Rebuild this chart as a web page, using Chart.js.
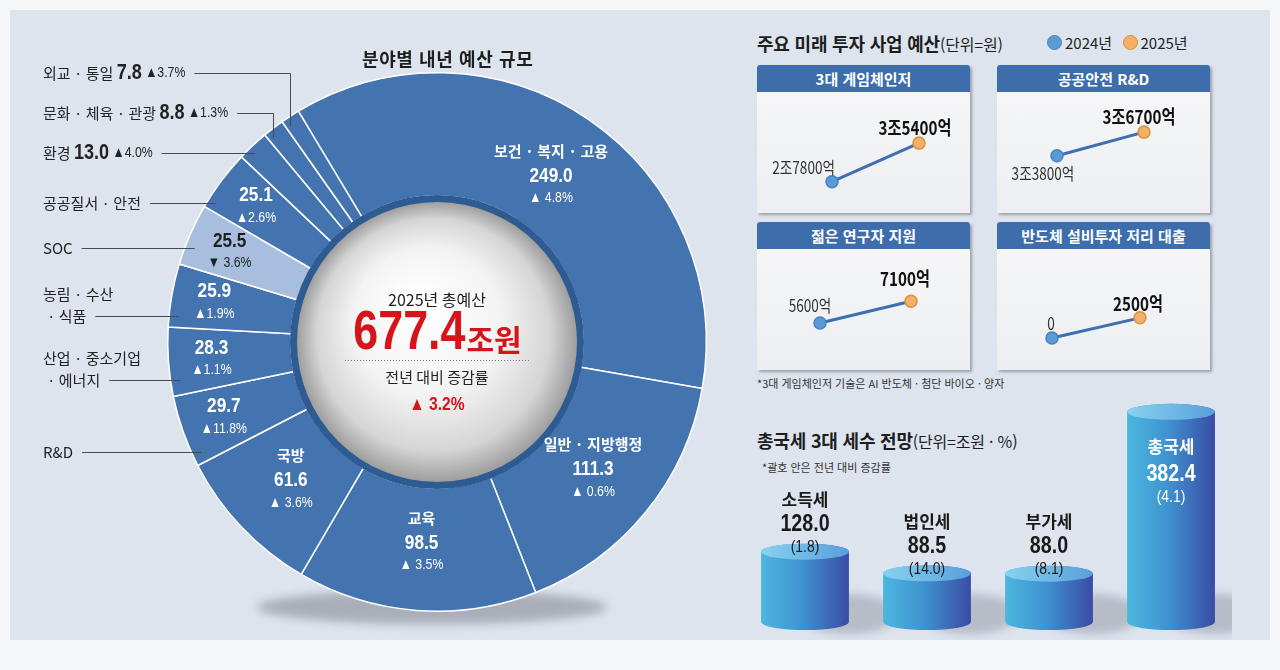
<!DOCTYPE html>
<html lang="ko">
<head>
<meta charset="utf-8">
<title>2025년 예산</title>
<script src="https://cdn.jsdelivr.net/npm/chart.js@4.4.1/dist/chart.umd.min.js"></script>
<style>
  body { margin: 0; width: 1280px; height: 670px; background: #f5f6f8; position: relative; overflow: hidden;
         font-family: "Noto Sans CJK KR", sans-serif; color: #1e1e1e; }
  #frame { position: absolute; left: 10px; top: 10px; width: 1260px; height: 630px; background: #dde4ee; }
  canvas { position: absolute; }
  .title { position: absolute; font-weight: bold; font-size: 18px; white-space: nowrap; letter-spacing: -0.2px; line-height: 20px; }
  .title span { font-weight: normal; font-size: 16px; }
  .note { position: absolute; font-size: 11px; color: #333; white-space: nowrap; line-height: 14px; }
  .box { position: absolute; width: 213px; height: 148px; background: linear-gradient(#f8f8f9, #eceef1);
         box-shadow: 2px 2px 3px rgba(0,0,0,0.3); border-radius: 3px 3px 0 0; }
  .box .hd { height: 27px; line-height: 27px; background: #3d6dab; color: #fff; font-weight: bold; font-size: 15px;
             text-align: center; border-radius: 3px 3px 0 0; }
  .box canvas { left: 0; top: 27px; }
  .legend { position: absolute; left: 1045px; top: 33px; font-size: 15px; white-space: nowrap; line-height: 20px; }
  .legend i { display: inline-block; width: 13px; height: 13px; border-radius: 50%; vertical-align: -1px; margin: 0 3px 0 2px; }
</style>
</head>
<body>
<div id="frame"></div>
<canvas id="donut" width="740" height="670" style="left:0;top:0"></canvas>
<div class="title" style="left:362px;top:48px;letter-spacing:0.6px">분야별 내년 예산 규모</div>

<div class="title" style="left:757px;top:33px">주요 미래 투자 사업 예산<span>(단위=원)</span></div>
<div class="legend"><i style="background:#5b9bd5;border:1px solid #4a86c3"></i>2024년 &nbsp;<i style="background:#f3b066;border:1px solid #d9933f"></i>2025년</div>
<div id="panels"></div>
<div class="note" style="left:757px;top:376px">*3대 게임체인저 기술은 AI 반도체 · 첨단 바이오 · 양자</div>

<div class="title" style="left:757px;top:430px">총국세 3대 세수 전망<span>(단위=조원 · %)</span></div>
<div class="note" style="left:762px;top:460px">*괄호 안은 전년 대비 증감률</div>
<canvas id="tax" width="488" height="240" style="left:744px;top:400px"></canvas>

<script>
// 분야별 내년 예산 규모 (조원, 전년 대비 %)
const sectors = ['보건 · 복지 · 고용', '일반 · 지방행정', '교육', '국방', 'R&D',
  '산업 · 중소기업\n· 에너지', '농림 · 수산\n· 식품', 'SOC', '공공질서 · 안전', '환경', '문화 · 체육 · 관광', '외교 · 통일'];
const budget = [249.0, 111.3, 98.5, 61.6, 29.7, 28.3, 25.9, 25.5, 25.1, 13.0, 8.8, 7.8];
const budgetChange = [4.8, 0.6, 3.5, 3.6, 11.8, 1.1, 1.9, -3.6, 2.6, 4.0, 1.3, 3.7];
const totalBudget = 677.4;
const totalChange = 3.2;

// 주요 미래 투자 사업 예산 (억원)
const projects = ['3대 게임체인저', '공공안전 R&D', '젊은 연구자 지원', '반도체 설비투자 저리 대출'];
const years = ['2024년', '2025년'];
const invest2024 = [27800, 33800, 5600, 0];
const invest2025 = [35400, 36700, 7100, 2500];

// 총국세 3대 세수 전망 (조원, 괄호 안은 전년 대비 %)
const taxNames = ['소득세', '법인세', '부가세', '총국세'];
const taxValues = [128.0, 88.5, 88.0, 382.4];
const taxChange = [1.8, 14.0, 8.1, 4.1];

const KR = "'Noto Sans CJK KR', sans-serif";
const NUM = "'Liberation Sans', 'Noto Sans CJK KR', sans-serif";
const NARROW = 0.82; // 좁은 숫자 글꼴 흉내

// sx < 1 이면 가로로 눌러서 그림, 그린 폭을 돌려줌
function txt(ctx, s, x, y, font, color, align, sx) {
  sx = sx || 1;
  ctx.save();
  ctx.font = font;
  ctx.fillStyle = color;
  ctx.textAlign = align || 'center';
  ctx.textBaseline = 'middle';
  ctx.translate(x, y);
  ctx.scale(sx, 1);
  ctx.fillText(s, 0, 0);
  const w = ctx.measureText(s).width * sx;
  ctx.restore();
  return w;
}
const pct = c => (c < 0 ? '▼ ' : '▲') + Math.abs(c).toFixed(1) + '%';
const eok = v => v === 0 ? '0' : (v >= 10000 ? Math.floor(v / 10000) + '조' + (v % 10000) + '억' : v + '억');

// ---------- 도넛 ----------
const outerY = { 4: 452, 5: 380, 6: 316, 7: 248, 8: 203, 9: 153, 10: 113, 11: 73 };

const donutDeco = {
  id: 'donutDeco',
  beforeDatasetsDraw(chart) {
    const a = chart.getDatasetMeta(0).data[0];
    const ctx = chart.ctx;
    ctx.save();
    ctx.filter = 'blur(5px)';
    ctx.fillStyle = '#a9aeb8';
    ctx.beginPath();
    ctx.ellipse(a.x - 5, a.y + a.outerRadius - 4, 175, 17, 0, 0, Math.PI * 2);
    ctx.fill();
    ctx.restore();
  },
  afterDatasetsDraw(chart) {
    const arcs = chart.getDatasetMeta(0).data;
    const ctx = chart.ctx;
    const a0 = arcs[0];
    const cx = a0.x, cy = a0.y, R = a0.outerRadius, r = a0.innerRadius;

    // 가운데 구
    ctx.save();
    ctx.beginPath();
    ctx.arc(cx, cy, r + 1, 0, Math.PI * 2);
    ctx.fillStyle = '#2e5b91';
    ctx.fill();
    const g = ctx.createRadialGradient(cx - 20, cy - 40, 8, cx, cy, r - 6);
    g.addColorStop(0, '#ffffff');
    g.addColorStop(0.5, '#f3f3f3');
    g.addColorStop(0.82, '#d5d5d5');
    g.addColorStop(1, '#9e9e9e');
    ctx.beginPath();
    ctx.arc(cx, cy, r - 6, 0, Math.PI * 2);
    ctx.fillStyle = g;
    ctx.fill();
    ctx.restore();

    txt(ctx, '2025년 총예산', cx, cy - 42, '16px ' + KR, '#222');
    ctx.save();
    ctx.font = 'bold 56px ' + NUM;
    const w1 = ctx.measureText(totalBudget.toFixed(1)).width * 0.8;
    ctx.font = 'bold 30px ' + KR;
    const w2 = ctx.measureText('조원').width;
    ctx.restore();
    const sx = cx - (w1 + w2) / 2;
    txt(ctx, totalBudget.toFixed(1), sx, cy - 8, 'bold 56px ' + NUM, '#d7141a', 'left', 0.8);
    txt(ctx, '조원', sx + w1 + 1, cy - 2, 'bold 30px ' + KR, '#d7141a', 'left');
    ctx.save();
    ctx.setLineDash([1, 2]);
    ctx.strokeStyle = '#777';
    ctx.beginPath();
    ctx.moveTo(cx - 92, cy + 18.5);
    ctx.lineTo(cx + 92, cy + 18.5);
    ctx.stroke();
    ctx.restore();
    txt(ctx, '전년 대비 증감률', cx, cy + 35, '15px ' + KR, '#222');
    txt(ctx, pct(totalChange).replace('▲', '▲ '), cx, cy + 63, 'bold 19px ' + NUM, '#d7141a', 'center', NARROW);

    // 조각 안 숫자
    for (let i = 0; i <= 8; i++) {
      const a = arcs[i];
      const mid = (a.startAngle + a.endAngle) / 2;
      const named = i < 4;
      const rr = r + (R - r) * (named ? 0.45 : 0.65);
      const x = cx + Math.cos(mid) * rr;
      const y = cy + Math.sin(mid) * rr;
      const col = budgetChange[i] < 0 ? '#1e1e1e' : '#ffffff';
      if (named) {
        txt(ctx, sectors[i], x, y - 25, 'bold 15px ' + KR, col);
        txt(ctx, budget[i].toFixed(1), x, y, 'bold 21px ' + NUM, col, 'center', NARROW);
        txt(ctx, pct(budgetChange[i]).replace('▲', '▲ '), x, y + 22, '15px ' + NUM, col, 'center', NARROW);
      } else {
        txt(ctx, budget[i].toFixed(1), x, y - 11, 'bold 21px ' + NUM, col, 'center', NARROW);
        txt(ctx, pct(budgetChange[i]), x, y + 11, '15px ' + NUM, col, 'center', NARROW);
      }
    }

    // 왼쪽 바깥 이름표와 지시선
    for (let i = 4; i < budget.length; i++) {
      const a = arcs[i];
      const mid = (a.startAngle + a.endAngle) / 2;
      const y = outerY[i];
      let endX;
      if (i >= 9) {
        let x = 43;
        x += txt(ctx, sectors[i] + ' ', x, y, '15px ' + KR, '#222', 'left');
        x += txt(ctx, budget[i].toFixed(1), x, y, 'bold 22px ' + NUM, '#222', 'left', NARROW);
        x += txt(ctx, ' ' + pct(budgetChange[i]), x, y, '15px ' + NUM, '#222', 'left', NARROW);
        endX = x;
      } else {
        const lines = sectors[i].split('\n');
        lines.forEach((ln, k) => {
          const lx = k ? 47 : 43;
          endX = lx + txt(ctx, ln, lx, y - (lines.length - 1 - k) * 22, '15px ' + KR, '#222', 'left');
        });
      }
      ctx.save();
      ctx.strokeStyle = '#4a4a4a';
      ctx.lineWidth = 1;
      ctx.beginPath();
      ctx.moveTo(endX + 9, y + 0.5);
      if (i >= 10) {
        const xm = Math.round(cx + Math.cos(mid) * R) + 0.5;
        const ym = cy + Math.sin(mid) * R;
        ctx.lineTo(xm, y + 0.5);
        ctx.lineTo(xm, ym + 10);
      } else {
        const dy = y - cy;
        ctx.lineTo(cx - Math.sqrt(R * R - dy * dy) + 10, y + 0.5);
      }
      ctx.stroke();
      ctx.restore();
    }
  }
};

new Chart(document.getElementById('donut'), {
  type: 'doughnut',
  data: {
    labels: sectors,
    datasets: [{
      data: budget,
      backgroundColor: budgetChange.map(c => c < 0 ? '#a8bedf' : '#4474b0'),
      borderColor: '#ffffff',
      borderWidth: 1.5
    }]
  },
  options: {
    responsive: false,
    animation: false,
    rotation: -31,
    cutout: 146,
    layout: { padding: { left: 167, top: 72, right: 33, bottom: 58 } },
    plugins: { legend: { display: false }, tooltip: { enabled: false } }
  },
  plugins: [donutDeco]
});

// ---------- 투자 사업 패널 ----------
const panelPos = [[757, 65], [997, 65], [757, 222], [997, 222]];
const panelPad = [[75, 51], [60, 66], [63, 59], [55, 70]];
const panelRange = [[23100, 44000], [27700, 40700], [2900, 10160], [-3040, 10110]];
const tagFirst = [[3, -14, 'right'], [-14, 18, 'center'], [-10, -18, 'center'], [-1, -14, 'center']];
const tagSecond = [[-4, -15], [-5, -15], [-6, -22], [-2, -14]];

const panels = document.getElementById('panels');
projects.forEach((name, i) => {
  const box = document.createElement('div');
  box.className = 'box';
  box.style.left = panelPos[i][0] + 'px';
  box.style.top = panelPos[i][1] + 'px';
  box.innerHTML = '<div class="hd">' + name + '</div><canvas width="213" height="121"></canvas>';
  panels.appendChild(box);

  const tagPlugin = {
    id: 'tag' + i,
    afterDatasetsDraw(chart) {
      const pts = chart.getDatasetMeta(0).data;
      const ctx = chart.ctx;
      const f = tagFirst[i], s = tagSecond[i];
      txt(ctx, eok(invest2024[i]), pts[0].x + f[0], pts[0].y + f[1], '17px ' + KR, '#333', f[2], 0.8);
      txt(ctx, eok(invest2025[i]), pts[1].x + s[0], pts[1].y + s[1], 'bold 19px ' + KR, '#111', 'center', 0.8);
    }
  };

  new Chart(box.querySelector('canvas'), {
    type: 'line',
    data: {
      labels: years,
      datasets: [{
        data: [invest2024[i], invest2025[i]],
        borderColor: '#3e6fb0',
        borderWidth: 3,
        pointRadius: 6,
        pointBackgroundColor: ['#5b9bd5', '#f3b066'],
        pointBorderColor: ['#4683c2', '#d9933f'],
        pointBorderWidth: 1.5,
        clip: false
      }]
    },
    options: {
      responsive: false,
      animation: false,
      layout: { padding: { left: panelPad[i][0], right: panelPad[i][1], top: 0, bottom: 0 } },
      scales: {
        x: { display: false, offset: false },
        y: { display: false, min: panelRange[i][0], max: panelRange[i][1] }
      },
      plugins: { legend: { display: false }, tooltip: { enabled: false } }
    },
    plugins: [tagPlugin]
  });
});

// ---------- 세수 원기둥 ----------
const cylinders = {
  id: 'cylinders',
  afterDatasetsDraw(chart) {
    const bars = chart.getDatasetMeta(0).data;
    const ctx = chart.ctx;
    const ry = 8;
    bars.forEach(b => {
      ctx.save();
      ctx.filter = 'blur(4px)';
      ctx.fillStyle = 'rgba(150,156,168,0.55)';
      ctx.beginPath();
      ctx.ellipse(b.x + b.width * 0.5, b.base - 8, b.width * 0.55, 20, 0, 0, Math.PI * 2);
      ctx.fill();
      ctx.restore();
    });
    bars.forEach((b, i) => {
      const w = b.width, l = b.x - w / 2, top = b.y, base = b.base;
      const g = ctx.createLinearGradient(l, 0, l + w, 0);
      g.addColorStop(0, '#4cb7df');
      g.addColorStop(0.45, '#3f94d0');
      g.addColorStop(1, '#3a4ca6');
      ctx.beginPath();
      ctx.moveTo(l, top);
      ctx.lineTo(l, base);
      ctx.ellipse(b.x, base, w / 2, ry, 0, Math.PI, 0, true);
      ctx.lineTo(l + w, top);
      ctx.ellipse(b.x, top, w / 2, ry, 0, 0, -Math.PI, true);
      ctx.closePath();
      ctx.fillStyle = g;
      ctx.fill();
      const t = ctx.createLinearGradient(l, 0, l + w, 0);
      t.addColorStop(0, '#86d2ef');
      t.addColorStop(1, '#5a9fdc');
      ctx.beginPath();
      ctx.ellipse(b.x, top, w / 2, ry, 0, 0, Math.PI * 2);
      ctx.fillStyle = t;
      ctx.fill();

      const inside = i === bars.length - 1;
      const col = inside ? '#ffffff' : '#1a1a1a';
      const y0 = inside ? top + 35 : top - 52;
      txt(ctx, taxNames[i], b.x, y0, 'bold 17px ' + KR, col);
      txt(ctx, taxValues[i].toFixed(1), b.x, y0 + (inside ? 28 : 25), 'bold 24px ' + NUM, col, 'center', NARROW);
      txt(ctx, '(' + taxChange[i].toFixed(1) + ')', b.x, y0 + (inside ? 50 : 48), '17px ' + NUM, col, 'center', NARROW);
    });
  }
};

new Chart(document.getElementById('tax'), {
  type: 'bar',
  data: {
    labels: taxNames,
    datasets: [{ data: taxValues, backgroundColor: 'rgba(0,0,0,0)', barPercentage: 0.72, categoryPercentage: 1 }]
  },
  options: {
    responsive: false,
    animation: false,
    layout: { padding: { top: 0, bottom: 18, left: 0, right: 0 } },
    scales: {
      x: { display: false },
      y: { display: false, min: 0, max: 404 }
    },
    plugins: { legend: { display: false }, tooltip: { enabled: false } }
  },
  plugins: [cylinders]
});
</script>
</body>
</html>
